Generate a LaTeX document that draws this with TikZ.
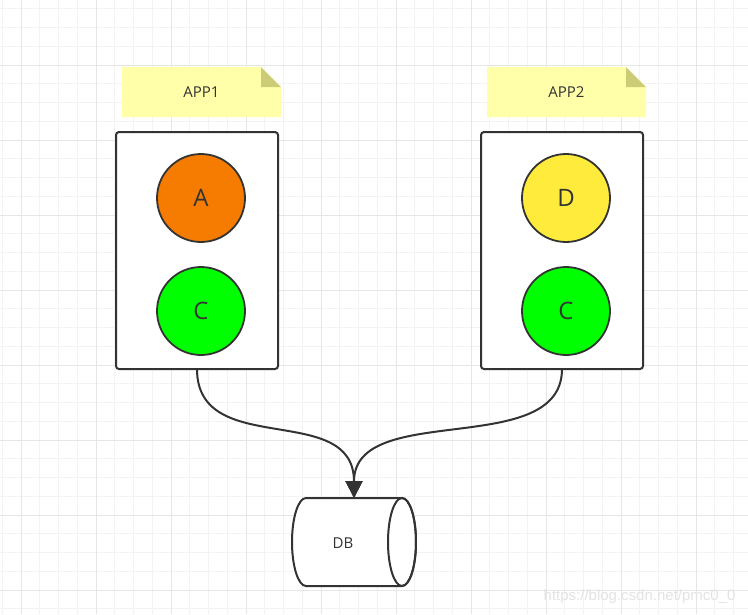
\documentclass[tikz,border=0pt]{standalone}
\usepackage{fontspec}
\setmainfont{Open Sans}
\newfontfamily\wmfont{Liberation Sans}
\usetikzlibrary{arrows.meta}
\definecolor{ink}{HTML}{333333}
\definecolor{gridminor}{HTML}{F3F3F3}
\definecolor{gridmajor}{HTML}{E6E6E6}
\definecolor{notefill}{HTML}{FFFFAA}
\definecolor{notefold}{HTML}{CCCC77}
\definecolor{compA}{HTML}{F57C00}
\definecolor{compC}{HTML}{00FF00}
\definecolor{compD}{HTML}{FFEB3B}
\begin{document}
\begin{tikzpicture}[
        x=1pt, y=-1pt,
        minor/.style={draw=gridminor, line width=1pt},
        major/.style={draw=gridmajor, line width=1pt},
        appbox/.style={draw=ink, fill=white, line width=2pt, rounded corners=3pt,
            minimum width=162pt, minimum height=237pt},
        comp/.style={draw=ink, circle, line width=1.8pt, minimum size=88pt,
            text=ink, font=\fontsize{24}{28}\selectfont},
        label/.style={text=ink, font=\fontsize{15}{18}\selectfont},
        link/.style={draw=ink, line width=2pt, -{Triangle[length=17pt,width=17pt]}},
    ]
    \useasboundingbox[fill=white] (0,0) rectangle (748,614);
    % grid
    \foreach \i in {0,...,39}
        \draw[minor] ({2.25+18.75*\i},0) -- ({2.25+18.75*\i},614);
    \foreach \i in {0,...,32}
        \draw[minor] (0,{8.75+18.75*\i}) -- (748,{8.75+18.75*\i});
    \foreach \i in {0,...,9}
        \draw[major] ({21+75*\i},0) -- ({21+75*\i},614);
    \foreach \i in {0,...,7}
        \draw[major] (0,{65+75*\i}) -- (748,{65+75*\i});

    % notes
    \foreach \x/\t in {122/APP1, 487/APP2}{
        \fill[notefill] (\x,67) -- ({\x+139},67) -- ({\x+159},87) -- ({\x+159},117) -- (\x,117) -- cycle;
        \fill[notefold] ({\x+139},67) -- ({\x+159},87) -- ({\x+139},87) -- cycle;
        \node[label, font=\fontsize{15}{18}\selectfont](note\t) at ({\x+79.5},92){\t};
    }

    % applications
    \node[appbox](app1) at (197,250.5){};
    \node[appbox](app2) at (562,250.5){};
    \node[comp, fill=compA](a) at (201,198){A};
    \node[comp, fill=compC](c1) at (201,311){C};
    \node[comp, fill=compD](d) at (566,198){D};
    \node[comp, fill=compC](c2) at (566,311){C};

    % database
    \filldraw[draw=ink, fill=white, line width=2pt]
        (306,498) -- (402,498) arc[start angle=90, end angle=-90, x radius=14pt, y radius=44pt]
        -- (306,586) arc[start angle=270, end angle=90, x radius=14pt, y radius=44pt] -- cycle;
    \draw[ink, line width=2pt] (402,542) ellipse[x radius=14pt, y radius=44pt];
    \node[label](db) at (343,543){DB};
    \coordinate (dbtop) at (354,498);

    % links
    \draw[link] (197,369) .. controls (197,460) and (354,400) .. (dbtop);
    \draw[link] (562,369) .. controls (562,460) and (354,400) .. (dbtop);

    \node[text=gray!22, font=\wmfont\fontsize{15}{18}\selectfont, anchor=east](wm) at (739,597){https://blog.csdn.net/pmc0\_0};
\end{tikzpicture}
\end{document}
